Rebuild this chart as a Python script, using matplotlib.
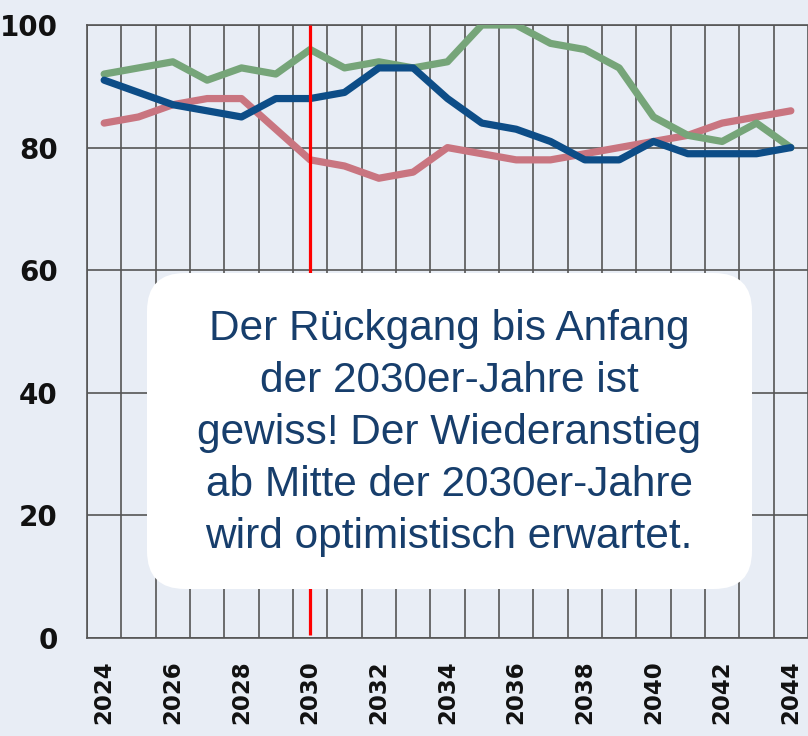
import numpy as np
import matplotlib
matplotlib.use('Agg')
import matplotlib.pyplot as plt
from matplotlib.patches import FancyBboxPatch
from matplotlib.transforms import IdentityTransform

# data
years = list(range(2024, 2045))
green = [92, 93, 94, 91, 93, 92, 96, 93, 94, 93, 94, 100, 100, 97, 96, 93, 85, 82, 81, 84, 80]
blue = [91, 89, 87, 86, 85, 88, 88, 89, 93, 93, 88, 84, 83, 81, 78, 78, 81, 79, 79, 79, 80]
pink = [84, 85, 87, 88, 88, 83, 78, 77, 75, 76, 80, 79, 78, 78, 79, 80, 81, 82, 84, 85, 86]
yticks = [0, 20, 40, 60, 80, 100]
xticks = list(range(2024, 2045, 2))
marker_year = 2030
note = ("Der Rückgang bis Anfang\nder 2030er-Jahre ist\ngewiss! Der Wiederanstieg\n"
        "ab Mitte der 2030er-Jahre\nwird optimistisch erwartet.")

bg = '#e8edf5'
fig = plt.figure(figsize=(8.08, 7.36), dpi=100, facecolor=bg)
ax = fig.add_axes([87 / 808, 98 / 736, 721 / 808, 613 / 736], facecolor=bg)

ax.plot(years, pink, color='#c97580', lw=5.2, solid_capstyle='round', zorder=3)
ax.plot(years, green, color='#76a579', lw=5.2, solid_capstyle='round', zorder=3)
ax.plot(years, blue, color='#0d4d87', lw=5.2, solid_capstyle='round', zorder=4)
ax.vlines(marker_year, 0.5, 100, color='#ff0000', lw=2.3, zorder=5)

ax.set_xlim(2023.5, 2044.5)
ax.set_ylim(0, 100)
ax.set_xticks(xticks)
ax.set_xticks(np.arange(2023.5, 2045, 1), minor=True)
ax.set_yticks(yticks)
ax.grid(axis='x', which='minor', color='#555555', lw=1.2)
ax.grid(axis='y', which='major', color='#555555', lw=1.2)
ax.set_axisbelow(True)
for s in ax.spines.values():
    s.set_color('#555555')
    s.set_linewidth(1.2)
ax.spines['right'].set_visible(False)

ax.tick_params(axis='both', which='both', length=0)
ax.tick_params(axis='y', pad=21, labelsize=20, labelcolor='#111111')
ax.tick_params(axis='x', pad=16, labelsize=16.5, labelcolor='#111111', labelrotation=90)
for lab in ax.get_xticklabels() + ax.get_yticklabels():
    lab.set_fontweight('bold')

box = FancyBboxPatch((147, 147), 605, 316, boxstyle='round,pad=0,rounding_size=38',
                     transform=IdentityTransform(), facecolor='white', edgecolor='none',
                     zorder=10)
fig.patches.append(box)
fig.text(449 / 808, 303 / 736, note, ha='center', va='center', fontsize=30.5,
         family='Liberation Sans', color='#173e6c', linespacing=1.38, zorder=11)

plt.savefig('out.png', dpi=100, facecolor=bg)
